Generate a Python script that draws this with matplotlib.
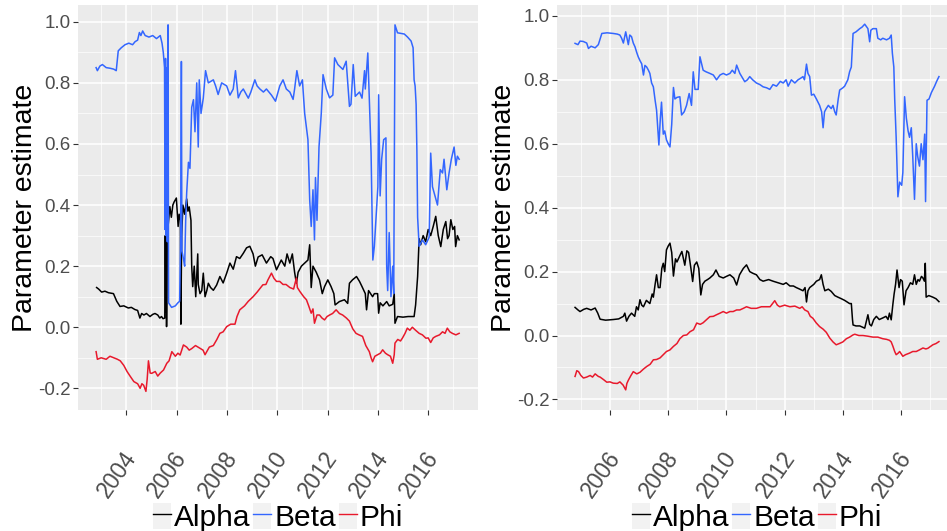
import numpy as np
import matplotlib
matplotlib.use("Agg")
import matplotlib.pyplot as plt
import matplotlib.transforms as mtransforms
from matplotlib.patches import Rectangle
from matplotlib.lines import Line2D
from matplotlib.legend_handler import HandlerTuple

plt.rcParams['font.family'] = ['Liberation Sans', 'DejaVu Sans']

# ---------------- data: left panel ----------------
L_ALPHA_YEAR = [2002.82, 2002.90, 2003.02, 2003.15, 2003.29, 2003.49, 2003.62, 2003.75, 2003.90, 2004.08,
                2004.20, 2004.34, 2004.45, 2004.54, 2004.61, 2004.70, 2004.80, 2004.94, 2005.05, 2005.14,
                2005.25, 2005.33, 2005.40, 2005.46, 2005.53, 2005.55, 2005.57, 2005.59, 2005.60, 2005.63,
                2005.66, 2005.73, 2005.79, 2005.85, 2005.90, 2005.99, 2006.06, 2006.10, 2006.15, 2006.17,
                2006.20, 2006.25, 2006.32, 2006.40, 2006.45, 2006.50, 2006.57, 2006.60, 2006.64, 2006.70,
                2006.76, 2006.80, 2006.84, 2006.86, 2006.93, 2007.00, 2007.06, 2007.13, 2007.20, 2007.26,
                2007.35, 2007.46, 2007.59, 2007.72, 2007.85, 2007.99, 2008.12, 2008.25, 2008.38, 2008.51,
                2008.65, 2008.78, 2008.91, 2009.04, 2009.13, 2009.24, 2009.40, 2009.57, 2009.74, 2009.83,
                2009.97, 2010.10, 2010.16, 2010.30, 2010.39, 2010.50, 2010.60, 2010.69, 2010.76, 2010.83,
                2010.96, 2011.09, 2011.22, 2011.29, 2011.35, 2011.42, 2011.55, 2011.68, 2011.79, 2011.88,
                2012.01, 2012.14, 2012.25, 2012.30, 2012.47, 2012.67, 2012.80, 2012.87, 2012.99, 2013.15,
                2013.27, 2013.37, 2013.50, 2013.55, 2013.63, 2013.79, 2013.86, 2013.99, 2014.03, 2014.09,
                2014.20, 2014.35, 2014.45, 2014.59, 2014.65, 2014.68, 2014.78, 2015.00, 2015.20, 2015.44,
                2015.50, 2015.58, 2015.64, 2015.70, 2015.80, 2015.90, 2016.00, 2016.10, 2016.20, 2016.30,
                2016.40, 2016.50, 2016.60, 2016.70, 2016.77, 2016.83, 2016.90, 2016.98, 2017.05, 2017.09,
                2017.16, 2017.23]
L_ALPHA = [0.130, 0.125, 0.115, 0.118, 0.113, 0.110, 0.085, 0.068, 0.070, 0.063,
           0.065, 0.058, 0.055, 0.030, 0.045, 0.040, 0.045, 0.035, 0.042, 0.045,
           0.040, 0.030, 0.035, 0.028, 0.030, 0.300, 0.050, 0.310, 0.002, 0.330,
           0.330, 0.395, 0.360, 0.400, 0.410, 0.423, 0.330, 0.370, 0.350, 0.010,
           0.300, 0.400, 0.370, 0.420, 0.380, 0.394, 0.350, 0.200, 0.133, 0.200,
           0.100, 0.170, 0.240, 0.140, 0.110, 0.120, 0.177, 0.100, 0.120, 0.144,
           0.130, 0.121, 0.138, 0.166, 0.145, 0.177, 0.210, 0.190, 0.231, 0.225,
           0.242, 0.260, 0.265, 0.240, 0.200, 0.230, 0.237, 0.210, 0.231, 0.225,
           0.188, 0.210, 0.220, 0.200, 0.240, 0.210, 0.240, 0.180, 0.144, 0.180,
           0.200, 0.210, 0.220, 0.270, 0.130, 0.200, 0.180, 0.155, 0.110, 0.133,
           0.155, 0.133, 0.110, 0.073, 0.084, 0.090, 0.078, 0.144, 0.155, 0.166,
           0.150, 0.133, 0.110, 0.057, 0.120, 0.100, 0.110, 0.110, 0.046, 0.080,
           0.070, 0.084, 0.070, 0.075, 0.110, 0.013, 0.035, 0.033, 0.035, 0.035,
           0.073, 0.166, 0.290, 0.270, 0.300, 0.280, 0.320, 0.300, 0.330, 0.363,
           0.300, 0.264, 0.320, 0.346, 0.290, 0.300, 0.352, 0.320, 0.330, 0.264,
           0.300, 0.286]

L_BETA_YEAR = [2002.80, 2002.85, 2002.95, 2003.05, 2003.20, 2003.35, 2003.50, 2003.60, 2003.68, 2003.80,
               2003.95, 2004.10, 2004.25, 2004.35, 2004.45, 2004.52, 2004.58, 2004.65, 2004.75, 2004.90,
               2005.05, 2005.20, 2005.35, 2005.42, 2005.47, 2005.52, 2005.54, 2005.56, 2005.58, 2005.60,
               2005.63, 2005.66, 2005.68, 2005.80, 2005.95, 2006.05, 2006.12, 2006.16, 2006.19, 2006.21,
               2006.28, 2006.32, 2006.36, 2006.40, 2006.47, 2006.53, 2006.60, 2006.67, 2006.73, 2006.80,
               2006.86, 2006.90, 2006.97, 2007.06, 2007.15, 2007.26, 2007.46, 2007.55, 2007.65, 2007.79,
               2007.99, 2008.12, 2008.25, 2008.34, 2008.45, 2008.55, 2008.65, 2008.85, 2008.95, 2009.11,
               2009.20, 2009.31, 2009.45, 2009.57, 2009.77, 2009.93, 2010.10, 2010.23, 2010.36, 2010.50,
               2010.63, 2010.69, 2010.78, 2010.89, 2011.00, 2011.09, 2011.22, 2011.29, 2011.35, 2011.42,
               2011.48, 2011.52, 2011.58, 2011.66, 2011.75, 2011.82, 2011.95, 2012.08, 2012.21, 2012.28,
               2012.41, 2012.61, 2012.74, 2012.87, 2012.93, 2013.02, 2013.10, 2013.27, 2013.37, 2013.47,
               2013.50, 2013.60, 2013.66, 2013.73, 2013.80, 2013.86, 2013.93, 2014.00, 2014.03, 2014.09,
               2014.15, 2014.23, 2014.32, 2014.35, 2014.39, 2014.45, 2014.52, 2014.59, 2014.63, 2014.68,
               2014.78, 2015.05, 2015.18, 2015.32, 2015.40, 2015.44, 2015.48, 2015.52, 2015.55, 2015.58,
               2015.64, 2015.77, 2015.90, 2016.04, 2016.10, 2016.17, 2016.27, 2016.37, 2016.48, 2016.57,
               2016.63, 2016.74, 2016.83, 2016.92, 2017.03, 2017.10, 2017.16, 2017.23]
L_BETA = [0.850, 0.840, 0.855, 0.860, 0.850, 0.848, 0.845, 0.840, 0.905, 0.915,
          0.925, 0.930, 0.925, 0.935, 0.940, 0.965, 0.955, 0.970, 0.955, 0.950,
          0.955, 0.945, 0.955, 0.930, 0.900, 0.850, 0.320, 0.880, 0.300, 0.850,
          0.280, 0.990, 0.080, 0.065, 0.070, 0.080, 0.085, 0.300, 0.870, 0.250,
          0.220, 0.200, 0.350, 0.440, 0.540, 0.520, 0.720, 0.745, 0.640, 0.800,
          0.590, 0.810, 0.700, 0.750, 0.840, 0.800, 0.810, 0.790, 0.762, 0.800,
          0.790, 0.760, 0.780, 0.840, 0.751, 0.770, 0.780, 0.750, 0.770, 0.810,
          0.790, 0.780, 0.770, 0.780, 0.760, 0.740, 0.790, 0.810, 0.780, 0.770,
          0.746, 0.780, 0.840, 0.790, 0.810, 0.700, 0.614, 0.417, 0.330, 0.450,
          0.286, 0.490, 0.350, 0.590, 0.700, 0.827, 0.780, 0.751, 0.760, 0.882,
          0.860, 0.844, 0.871, 0.723, 0.730, 0.860, 0.756, 0.770, 0.750, 0.840,
          0.780, 0.898, 0.746, 0.570, 0.220, 0.265, 0.360, 0.460, 0.761, 0.430,
          0.550, 0.614, 0.620, 0.200, 0.120, 0.310, 0.100, 0.200, 0.110, 0.990,
          0.964, 0.960, 0.950, 0.937, 0.915, 0.810, 0.790, 0.730, 0.580, 0.360,
          0.265, 0.286, 0.270, 0.295, 0.570, 0.460, 0.430, 0.400, 0.516, 0.505,
          0.550, 0.450, 0.505, 0.550, 0.590, 0.530, 0.560, 0.550]

L_PHI_YEAR = [2002.80, 2002.85, 2003.00, 2003.20, 2003.35, 2003.50, 2003.65, 2003.76, 2003.90, 2004.03,
              2004.15, 2004.30, 2004.45, 2004.55, 2004.62, 2004.69, 2004.78, 2004.83, 2004.88, 2004.95,
              2005.01, 2005.15, 2005.25, 2005.35, 2005.48, 2005.61, 2005.70, 2005.81, 2005.95, 2006.05,
              2006.14, 2006.27, 2006.40, 2006.50, 2006.60, 2006.75, 2006.93, 2007.05, 2007.13, 2007.30,
              2007.46, 2007.60, 2007.72, 2007.85, 2007.99, 2008.15, 2008.32, 2008.40, 2008.51, 2008.70,
              2008.85, 2009.04, 2009.20, 2009.43, 2009.55, 2009.63, 2009.77, 2009.87, 2009.97, 2010.10,
              2010.23, 2010.35, 2010.50, 2010.65, 2010.76, 2010.80, 2010.90, 2011.05, 2011.16, 2011.25,
              2011.35, 2011.42, 2011.48, 2011.58, 2011.68, 2011.78, 2011.88, 2011.98, 2012.08, 2012.20,
              2012.34, 2012.47, 2012.60, 2012.75, 2012.87, 2013.00, 2013.13, 2013.25, 2013.39, 2013.52,
              2013.66, 2013.73, 2013.79, 2013.88, 2013.99, 2014.10, 2014.19, 2014.30, 2014.39, 2014.50,
              2014.59, 2014.65, 2014.68, 2014.79, 2014.90, 2014.98, 2015.08, 2015.17, 2015.27, 2015.37,
              2015.50, 2015.64, 2015.77, 2015.91, 2016.00, 2016.10, 2016.20, 2016.30, 2016.45, 2016.57,
              2016.67, 2016.76, 2016.86, 2016.96, 2017.10, 2017.23]
L_PHI = [-0.080, -0.105, -0.100, -0.105, -0.095, -0.100, -0.105, -0.110, -0.125, -0.145,
         -0.160, -0.178, -0.185, -0.200, -0.185, -0.190, -0.210, -0.170, -0.110, -0.150,
         -0.151, -0.145, -0.160, -0.150, -0.140, -0.118, -0.110, -0.080, -0.095, -0.085,
         -0.091, -0.058, -0.065, -0.075, -0.070, -0.060, -0.069, -0.075, -0.090, -0.065,
         -0.060, -0.040, -0.020, -0.015, 0.002, 0.010, 0.010, 0.035, 0.057, 0.070,
         0.085, 0.100, 0.115, 0.139, 0.140, 0.155, 0.177, 0.160, 0.150, 0.150,
         0.140, 0.140, 0.130, 0.125, 0.161, 0.130, 0.117, 0.100, 0.090, 0.070,
         0.046, 0.060, 0.013, 0.040, 0.040, 0.030, 0.024, 0.035, 0.040, 0.045,
         0.057, 0.045, 0.040, 0.030, 0.020, -0.005, -0.020, -0.025, -0.030, -0.060,
         -0.080, -0.100, -0.113, -0.095, -0.090, -0.085, -0.074, -0.085, -0.090, -0.095,
         -0.118, -0.090, -0.052, -0.040, -0.045, -0.035, -0.020, -0.003, -0.010, 0.000,
         -0.010, -0.020, -0.025, -0.036, -0.035, -0.050, -0.035, -0.030, -0.025, -0.015,
         -0.020, -0.003, -0.015, -0.020, -0.025, -0.020]

# ---------------- data: right panel ----------------
R_ALPHA_YEAR = [2004.80, 2004.90, 2004.97, 2005.10, 2005.20, 2005.35, 2005.49, 2005.58, 2005.66, 2005.85,
                2006.11, 2006.30, 2006.46, 2006.51, 2006.57, 2006.65, 2006.74, 2006.85, 2006.91, 2006.97,
                2007.03, 2007.09, 2007.15, 2007.25, 2007.37, 2007.45, 2007.49, 2007.55, 2007.60, 2007.66,
                2007.72, 2007.78, 2007.83, 2007.88, 2007.94, 2008.00, 2008.06, 2008.12, 2008.18, 2008.25,
                2008.30, 2008.40, 2008.47, 2008.57, 2008.64, 2008.70, 2008.78, 2008.84, 2008.90, 2008.98,
                2009.05, 2009.12, 2009.18, 2009.26, 2009.35, 2009.43, 2009.55, 2009.64, 2009.75, 2009.89,
                2010.00, 2010.12, 2010.25, 2010.35, 2010.45, 2010.58, 2010.69, 2010.80, 2010.90, 2011.03,
                2011.15, 2011.26, 2011.45, 2011.60, 2011.78, 2011.95, 2012.05, 2012.18, 2012.30, 2012.40,
                2012.52, 2012.63, 2012.70, 2012.75, 2012.80, 2012.86, 2013.00, 2013.09, 2013.20, 2013.26,
                2013.32, 2013.38, 2013.50, 2013.60, 2013.72, 2013.83, 2013.95, 2014.06, 2014.23, 2014.29,
                2014.33, 2014.35, 2014.45, 2014.58, 2014.75, 2014.86, 2014.92, 2014.98, 2015.06, 2015.15,
                2015.25, 2015.37, 2015.48, 2015.55, 2015.60, 2015.66, 2015.72, 2015.76, 2015.81, 2015.86,
                2015.93, 2015.98, 2016.04, 2016.10, 2016.17, 2016.24, 2016.32, 2016.40, 2016.46, 2016.52,
                2016.58, 2016.63, 2016.70, 2016.75, 2016.80, 2016.83, 2016.86, 2016.95, 2017.09, 2017.20,
                2017.30]
R_ALPHA = [0.088, 0.080, 0.075, 0.082, 0.085, 0.080, 0.086, 0.070, 0.051, 0.048,
           0.050, 0.052, 0.060, 0.070, 0.045, 0.060, 0.070, 0.060, 0.090, 0.080,
           0.112, 0.095, 0.090, 0.110, 0.100, 0.130, 0.120, 0.160, 0.190, 0.150,
           0.150, 0.210, 0.226, 0.200, 0.268, 0.280, 0.289, 0.260, 0.186, 0.240,
           0.230, 0.250, 0.263, 0.220, 0.265, 0.260, 0.210, 0.169, 0.220, 0.230,
           0.210, 0.127, 0.160, 0.170, 0.175, 0.180, 0.190, 0.205, 0.185, 0.180,
           0.185, 0.190, 0.180, 0.158, 0.190, 0.210, 0.221, 0.200, 0.195, 0.190,
           0.175, 0.170, 0.175, 0.170, 0.165, 0.160, 0.165, 0.155, 0.155, 0.150,
           0.145, 0.140, 0.150, 0.105, 0.140, 0.150, 0.160, 0.170, 0.175, 0.190,
           0.160, 0.140, 0.145, 0.138, 0.125, 0.120, 0.115, 0.110, 0.100, 0.100,
           0.050, 0.033, 0.030, 0.030, 0.023, 0.065, 0.035, 0.030, 0.050, 0.060,
           0.050, 0.055, 0.060, 0.050, 0.070, 0.049, 0.100, 0.130, 0.160, 0.205,
           0.150, 0.175, 0.170, 0.096, 0.140, 0.150, 0.165, 0.160, 0.190, 0.160,
           0.175, 0.170, 0.185, 0.180, 0.170, 0.226, 0.120, 0.125, 0.120, 0.115,
           0.106]

R_BETA_YEAR = [2004.80, 2004.90, 2004.97, 2005.08, 2005.20, 2005.26, 2005.35, 2005.49, 2005.60, 2005.72,
               2005.90, 2006.11, 2006.25, 2006.34, 2006.40, 2006.46, 2006.54, 2006.63, 2006.68, 2006.74,
               2006.80, 2006.86, 2006.92, 2006.97, 2007.03, 2007.09, 2007.15, 2007.20, 2007.26, 2007.32,
               2007.37, 2007.43, 2007.49, 2007.55, 2007.60, 2007.64, 2007.68, 2007.73, 2007.77, 2007.83,
               2007.88, 2007.94, 2008.00, 2008.06, 2008.12, 2008.18, 2008.23, 2008.30, 2008.40, 2008.46,
               2008.55, 2008.63, 2008.72, 2008.80, 2008.86, 2008.92, 2009.03, 2009.09, 2009.20, 2009.30,
               2009.43, 2009.55, 2009.66, 2009.78, 2009.89, 2010.00, 2010.12, 2010.20, 2010.29, 2010.35,
               2010.46, 2010.63, 2010.72, 2010.80, 2010.90, 2011.03, 2011.15, 2011.26, 2011.38, 2011.49,
               2011.60, 2011.72, 2011.85, 2011.95, 2012.05, 2012.12, 2012.23, 2012.35, 2012.46, 2012.55,
               2012.63, 2012.68, 2012.75, 2012.80, 2012.86, 2012.92, 2013.00, 2013.09, 2013.20, 2013.27,
               2013.32, 2013.37, 2013.43, 2013.50, 2013.60, 2013.66, 2013.72, 2013.77, 2013.84, 2013.89,
               2014.00, 2014.06, 2014.17, 2014.23, 2014.29, 2014.35, 2014.45, 2014.58, 2014.66, 2014.75,
               2014.82, 2014.86, 2014.92, 2014.96, 2015.03, 2015.15, 2015.20, 2015.30, 2015.37, 2015.50,
               2015.60, 2015.66, 2015.70, 2015.75, 2015.78, 2015.83, 2015.89, 2015.95, 2016.02, 2016.06,
               2016.12, 2016.18, 2016.24, 2016.29, 2016.35, 2016.40, 2016.46, 2016.52, 2016.57, 2016.63,
               2016.69, 2016.75, 2016.81, 2016.84, 2016.89, 2016.96, 2017.04, 2017.15, 2017.22, 2017.30]
R_BETA = [0.914, 0.910, 0.921, 0.920, 0.915, 0.898, 0.905, 0.900, 0.910, 0.945,
          0.947, 0.945, 0.943, 0.940, 0.930, 0.915, 0.950, 0.910, 0.940, 0.935,
          0.915, 0.903, 0.885, 0.872, 0.860, 0.850, 0.815, 0.845, 0.840, 0.830,
          0.820, 0.790, 0.778, 0.736, 0.705, 0.650, 0.596, 0.680, 0.730, 0.630,
          0.640, 0.612, 0.600, 0.590, 0.660, 0.776, 0.740, 0.745, 0.747, 0.690,
          0.700, 0.720, 0.757, 0.720, 0.825, 0.770, 0.770, 0.872, 0.830, 0.825,
          0.820, 0.815, 0.800, 0.815, 0.820, 0.815, 0.820, 0.830, 0.820, 0.846,
          0.820, 0.794, 0.800, 0.810, 0.800, 0.790, 0.785, 0.778, 0.775, 0.770,
          0.785, 0.780, 0.795, 0.790, 0.800, 0.780, 0.800, 0.790, 0.800, 0.805,
          0.810, 0.800, 0.849, 0.820, 0.810, 0.752, 0.755, 0.740, 0.720, 0.700,
          0.650, 0.700, 0.710, 0.720, 0.710, 0.720, 0.700, 0.690, 0.740, 0.768,
          0.775, 0.780, 0.800, 0.825, 0.840, 0.945, 0.950, 0.960, 0.965, 0.974,
          0.965, 0.960, 0.919, 0.955, 0.960, 0.960, 0.930, 0.925, 0.930, 0.925,
          0.930, 0.940, 0.883, 0.840, 0.740, 0.620, 0.434, 0.480, 0.470, 0.510,
          0.747, 0.680, 0.640, 0.620, 0.650, 0.560, 0.426, 0.600, 0.560, 0.530,
          0.600, 0.550, 0.630, 0.419, 0.736, 0.740, 0.760, 0.780, 0.795, 0.810]

R_PHI_YEAR = [2004.80, 2004.86, 2004.92, 2005.00, 2005.09, 2005.20, 2005.32, 2005.40, 2005.49, 2005.60,
              2005.66, 2005.78, 2005.89, 2006.00, 2006.11, 2006.25, 2006.34, 2006.45, 2006.54, 2006.58,
              2006.63, 2006.72, 2006.80, 2006.92, 2007.03, 2007.15, 2007.26, 2007.38, 2007.49, 2007.60,
              2007.72, 2007.83, 2007.94, 2008.06, 2008.18, 2008.30, 2008.40, 2008.52, 2008.64, 2008.75,
              2008.87, 2008.98, 2009.10, 2009.20, 2009.32, 2009.43, 2009.55, 2009.66, 2009.78, 2009.89,
              2010.00, 2010.12, 2010.23, 2010.35, 2010.46, 2010.58, 2010.69, 2010.85, 2011.03, 2011.20,
              2011.37, 2011.50, 2011.66, 2011.75, 2011.83, 2012.00, 2012.18, 2012.35, 2012.52, 2012.60,
              2012.69, 2012.80, 2012.88, 2012.97, 2013.08, 2013.20, 2013.32, 2013.43, 2013.55, 2013.66,
              2013.77, 2013.88, 2014.00, 2014.12, 2014.23, 2014.35, 2014.41, 2014.55, 2014.69, 2014.85,
              2015.03, 2015.20, 2015.37, 2015.50, 2015.60, 2015.66, 2015.72, 2015.78, 2015.83, 2015.90,
              2015.95, 2016.06, 2016.15, 2016.29, 2016.40, 2016.52, 2016.63, 2016.75, 2016.85, 2016.92,
              2017.09, 2017.20, 2017.30]
R_PHI = [-0.128, -0.110, -0.113, -0.125, -0.133, -0.130, -0.125, -0.130, -0.120, -0.128,
         -0.130, -0.138, -0.146, -0.145, -0.149, -0.150, -0.145, -0.155, -0.170, -0.150,
         -0.140, -0.125, -0.113, -0.120, -0.115, -0.105, -0.097, -0.090, -0.076, -0.075,
         -0.070, -0.060, -0.050, -0.045, -0.034, -0.025, -0.010, 0.000, 0.002, 0.012,
         0.018, 0.039, 0.035, 0.040, 0.050, 0.059, 0.060, 0.065, 0.070, 0.075,
         0.070, 0.075, 0.075, 0.080, 0.080, 0.085, 0.090, 0.085, 0.085, 0.090,
         0.090, 0.090, 0.109, 0.095, 0.090, 0.095, 0.090, 0.092, 0.085, 0.090,
         0.080, 0.075, 0.060, 0.054, 0.040, 0.028, 0.020, 0.010, -0.008, -0.020,
         -0.029, -0.025, -0.020, -0.010, -0.005, 0.002, 0.004, 0.000, 0.000, -0.002,
         -0.005, -0.005, -0.010, -0.012, -0.015, -0.020, -0.034, -0.050, -0.060, -0.055,
         -0.050, -0.065, -0.060, -0.055, -0.050, -0.050, -0.045, -0.039, -0.042, -0.040,
         -0.029, -0.025, -0.019]

COLORS = {'Alpha': '#000000', 'Beta': '#3366FF', 'Phi': '#E8192C'}
TICK_GREY = '#4D4D4D'


def style_panel(ax, xlim, ylim, xticks):
    ax.set_facecolor('#EBEBEB')
    for s in ax.spines.values():
        s.set_visible(False)
    ax.set_xlim(*xlim)
    ax.set_ylim(*ylim)
    ax.set_xticks(xticks)
    ax.set_xticklabels([])
    ax.set_xticks([y + 1 for y in xticks[:-1]] + [xticks[0] - 1, xticks[-1] + 1], minor=True)
    ax.set_yticks([-0.2, 0.0, 0.2, 0.4, 0.6, 0.8, 1.0])
    ax.set_yticklabels(['-0.2', '0.0', '0.2', '0.4', '0.6', '0.8', '1.0'])
    ax.set_yticks([-0.1, 0.1, 0.3, 0.5, 0.7, 0.9], minor=True)
    ax.grid(which='major', color='white', lw=1.1)
    ax.grid(which='minor', color='white', lw=0.5)
    ax.set_axisbelow(True)
    ax.tick_params(which='major', length=3.5, width=0.8, color='#333333',
                   labelcolor=TICK_GREY, labelsize=13.5, pad=2)
    ax.tick_params(which='minor', length=0)
    ax.set_ylabel('Parameter estimate', fontsize=20.5, color='black', labelpad=0)

    # rotated year labels
    shift = mtransforms.ScaledTranslation(-9 / 100, 0, ax.figure.dpi_scale_trans)
    for y in xticks:
        ax.text(y, -0.158, str(y), transform=ax.get_xaxis_transform() + shift,
                rotation=55, rotation_mode='anchor', ha='center', va='center',
                fontsize=16.5, color=TICK_GREY, clip_on=False)


def draw_panel(ax, alpha, beta, phi):
    for name, (xs, ys) in [('Alpha', alpha), ('Beta', beta), ('Phi', phi)]:
        ax.plot(xs, ys, color=COLORS[name], lw=1.1)
    handles = []
    for name in ['Alpha', 'Beta', 'Phi']:
        key = Rectangle((0, 0), 1, 1, facecolor='#F2F2F2', edgecolor='none')
        line = Line2D([], [], color=COLORS[name], lw=1.0)
        handles.append((key, line))
    ax.legend(handles, ['Alpha', 'Beta', 'Phi'],
              handler_map={tuple: HandlerTuple(ndivide=1)},
              loc='center', bbox_to_anchor=(0.5, -0.265), ncol=3, frameon=False,
              fontsize=21.5, handlelength=0.6, handleheight=1.0,
              handletextpad=0.1, columnspacing=0.1, borderaxespad=0, borderpad=0)


fig = plt.figure(figsize=(9.47, 5.31), dpi=100)
ax1 = fig.add_axes([78 / 947, 121 / 531, 400 / 947, 405 / 531])
ax2 = fig.add_axes([557 / 947, 121 / 531, 400 / 947, 405 / 531])

draw_panel(ax1, (L_ALPHA_YEAR, L_ALPHA), (L_BETA_YEAR, L_BETA), (L_PHI_YEAR, L_PHI))
style_panel(ax1, (2002.08, 2017.98), (-0.271, 1.055), [2004, 2006, 2008, 2010, 2012, 2014, 2016])

draw_panel(ax2, (R_ALPHA_YEAR, R_ALPHA), (R_BETA_YEAR, R_BETA), (R_PHI_YEAR, R_PHI))
style_panel(ax2, (2004.18, 2017.92), (-0.233, 1.034), [2006, 2008, 2010, 2012, 2014, 2016])

fig.savefig('out.png', dpi=100)
